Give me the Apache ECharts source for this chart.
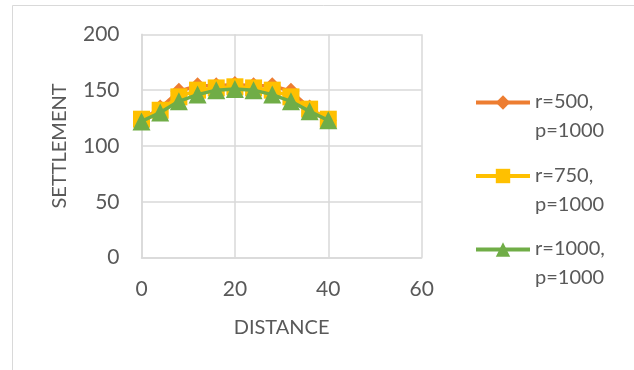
<!DOCTYPE html>
<html>
<head>
<meta charset="utf-8">
<script src="https://cdn.jsdelivr.net/npm/echarts@6/dist/echarts.min.js"></script>
<style>
html,body{margin:0;padding:0;background:#fff;}
#chart{width:634px;height:370px;}
</style>
</head>
<body>
<div id="chart"></div>
<script>
const distance = [0, 4, 8, 12, 16, 20, 24, 28, 32, 36, 40];
const seriesNames = ['r=500,\np=1000', 'r=750,\np=1000', 'r=1000,\np=1000'];
const r500 = [123, 134, 149, 154, 154, 155, 154, 154, 149, 134, 123];
const r750 = [124, 132, 144, 150, 152, 153, 152, 150, 144, 133, 124];
const r1000 = [122, 130, 140, 146, 150, 151, 150, 146, 140, 131, 123];
const xTicks = [0, 20, 40, 60];
const yTicks = [0, 50, 100, 150, 200];

const colors = ['#ED7D31', '#FFC000', '#70AD47'];
const symbols = ['diamond', 'rect', 'triangle'];
const sizes = [17, 17, 18];
const values = [r500, r750, r1000];

const chart = echarts.init(document.getElementById('chart'));
const font = 'Lato';
const textColor = '#595959';
const gridColor = '#D9D9D9';

chart.setOption({
  animation: false,
  backgroundColor: '#fff',
  graphic: [{
    type: 'rect', silent: true,
    shape: {x: 12.5, y: 5.5, width: 700, height: 500},
    style: {fill: 'none', stroke: gridColor, lineWidth: 1}
  }],
  grid: {left: 141.5, top: 34.3, width: 280.2, height: 223.4, containLabel: false},
  xAxis: {
    type: 'value', min: xTicks[0], max: xTicks[xTicks.length - 1], interval: 20,
    name: 'DISTANCE', nameLocation: 'middle', nameGap: 60,
    nameTextStyle: {fontFamily: font, fontSize: 20, color: textColor},
    axisLine: {show: true, lineStyle: {color: gridColor, width: 1.5}},
    axisTick: {show: false},
    axisLabel: {fontFamily: font, fontSize: 21, color: textColor, margin: 21},
    splitLine: {show: true, lineStyle: {color: gridColor, width: 1.5}}
  },
  yAxis: {
    type: 'value', min: yTicks[0], max: yTicks[yTicks.length - 1], interval: 50,
    name: 'SETTLEMENT', nameLocation: 'middle', nameGap: 72,
    nameTextStyle: {fontFamily: font, fontSize: 20, color: textColor},
    axisLine: {show: true, lineStyle: {color: gridColor, width: 1.5}},
    axisTick: {show: false},
    axisLabel: {fontFamily: font, fontSize: 21, color: textColor, margin: 22},
    splitLine: {show: true, lineStyle: {color: gridColor, width: 1.5}}
  },
  legend: {
    orient: 'vertical', left: 474, top: 92, padding: 0,
    itemWidth: 54, itemHeight: 18, itemGap: 24.5,
    lineStyle: {width: 4},
    formatter: function (name) {
      const parts = name.split('\n');
      return '{a|' + parts[0] + '}\n{b|' + parts[1] + '}';
    },
    textStyle: {
      fontFamily: font, fontSize: 20, color: textColor,
      rich: {
        a: {fontFamily: font, fontSize: 20, color: textColor, lineHeight: 57},
        b: {fontFamily: font, fontSize: 20, color: textColor, lineHeight: 1}
      }
    },
    data: seriesNames
  },
  series: values.map((v, i) => ({
    name: seriesNames[i],
    type: 'line',
    data: distance.map((d, j) => [d, v[j]]),
    symbol: symbols[i],
    symbolSize: sizes[i],
    showAllSymbol: true,
    lineStyle: {color: colors[i], width: 3.5},
    itemStyle: {color: colors[i]},
    z: 2 + i
  }))
});
</script>
</body>
</html>
